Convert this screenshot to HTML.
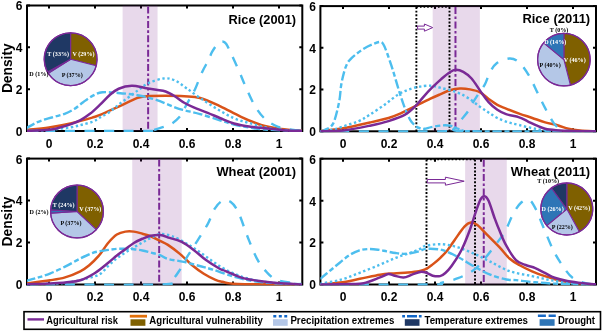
<!DOCTYPE html>
<html><head><meta charset="utf-8"><style>
html,body{margin:0;padding:0;background:#fff;width:602px;height:331px;overflow:hidden}
svg{display:block;will-change:transform;filter:blur(0.3px)}
.tl{font-family:"Liberation Sans",sans-serif;font-weight:bold;font-size:12px;fill:#000}
.tt{font-family:"Liberation Sans",sans-serif;font-weight:bold;font-size:12.2px;fill:#000}
.yl{font-family:"Liberation Sans",sans-serif;font-weight:bold;font-size:13.8px;fill:#000}
.pl{font-family:"Liberation Serif",serif;font-weight:bold;font-size:7px}
.lg{font-family:"Liberation Sans",sans-serif;font-weight:bold;font-size:10.3px;fill:#000}
</style></head><body>
<svg width="602" height="331" viewBox="0 0 602 331">
<rect width="602" height="331" fill="#fff"/>
<clipPath id="c1"><rect x="27.00" y="4.50" width="275.30" height="127.50"/></clipPath>
<rect x="27.00" y="5.50" width="275.30" height="125.50" fill="none" stroke="#000" stroke-width="2"/>
<path d="M49.00,131.00V128.00 M49.00,5.50V8.50 M95.00,131.00V128.00 M95.00,5.50V8.50 M141.00,131.00V128.00 M141.00,5.50V8.50 M187.00,131.00V128.00 M187.00,5.50V8.50 M233.00,131.00V128.00 M233.00,5.50V8.50 M279.00,131.00V128.00 M279.00,5.50V8.50 M27.00,131.00H30.00 M302.30,131.00H299.30 M27.00,89.17H30.00 M302.30,89.17H299.30 M27.00,47.33H30.00 M302.30,47.33H299.30 M27.00,5.50H30.00 M302.30,5.50H299.30" stroke="#000" stroke-width="2" fill="none"/>
<text x="49.00" y="147.50" text-anchor="middle" class="tl">0</text>
<text x="95.00" y="147.50" text-anchor="middle" class="tl">0.2</text>
<text x="141.00" y="147.50" text-anchor="middle" class="tl">0.4</text>
<text x="187.00" y="147.50" text-anchor="middle" class="tl">0.6</text>
<text x="233.00" y="147.50" text-anchor="middle" class="tl">0.8</text>
<text x="279.00" y="147.50" text-anchor="middle" class="tl">1</text>
<text x="22.50" y="135.90" text-anchor="end" class="tl">0</text>
<text x="22.50" y="94.07" text-anchor="end" class="tl">2</text>
<text x="22.50" y="52.23" text-anchor="end" class="tl">4</text>
<text x="22.50" y="10.40" text-anchor="end" class="tl">6</text>
<g clip-path="url(#c1)">
<rect x="122.60" y="5.50" width="34.96" height="125.50" fill="#7E2F8E" fill-opacity="0.18"/>
<path d="M148.13,6.50V131.00" stroke="#7A2A96" stroke-width="2" stroke-dasharray="7 2.4 2.6 2.4" fill="none"/>
<path d="M26.00,129.95 C29.83,129.54 41.60,128.52 49.00,127.44 C56.40,126.36 63.18,125.11 70.39,123.47 C77.60,121.83 87.30,119.04 92.24,117.61 C97.19,116.18 95.65,116.74 100.06,114.89 C104.47,113.05 112.44,109.35 118.69,106.53 C124.94,103.70 132.87,99.66 137.55,97.95 C142.23,96.24 142.07,96.63 146.75,96.28 C151.43,95.93 159.36,95.86 165.61,95.86 C171.86,95.86 178.49,95.93 184.24,96.28 C189.99,96.63 194.09,96.28 200.11,97.95 C206.13,99.62 213.60,103.22 220.35,106.32 C227.10,109.42 233.81,113.46 240.59,116.57 C247.38,119.67 254.28,122.88 261.06,124.93 C267.85,126.99 274.48,127.93 281.30,128.91 C288.12,129.88 298.55,130.48 302.00,130.79" stroke="#D95319" stroke-width="2.5" fill="none"/>
<path d="M26.00,131.00 C29.57,130.90 42.02,130.72 47.39,130.37 C52.76,130.02 54.25,129.43 58.20,128.91 C62.15,128.39 67.13,127.93 71.08,127.23 C75.03,126.54 78.25,125.67 81.89,124.72 C85.53,123.78 89.90,122.81 92.93,121.59 C95.96,120.37 97.34,118.97 100.06,117.40 C102.78,115.84 106.16,114.30 109.26,112.17 C112.37,110.05 113.97,108.24 118.69,104.64 C123.41,101.05 132.57,94.22 137.55,90.63 C142.53,87.04 144.22,85.12 148.59,83.10 C152.96,81.08 159.40,78.95 163.77,78.50 C168.14,78.05 171.09,78.81 174.81,80.38 C178.53,81.95 181.86,84.98 186.08,87.91 C190.30,90.84 194.97,94.47 200.11,97.95 C205.25,101.44 211.27,105.45 216.90,108.83 C222.53,112.21 228.29,115.80 233.92,118.24 C239.56,120.68 245.11,121.87 250.71,123.47 C256.31,125.07 261.63,126.75 267.50,127.86 C273.37,128.98 280.15,129.64 285.90,130.16 C291.65,130.69 299.32,130.86 302.00,131.00" stroke="#4DBEEE" stroke-width="2.4" fill="none" stroke-dasharray="2.4 2.6"/>
<path d="M26.00,128.28 C27.73,127.34 33.02,124.17 36.35,122.63 C39.69,121.10 42.87,120.09 46.01,119.08 C49.15,118.07 52.11,117.44 55.21,116.57 C58.31,115.70 61.46,115.10 64.64,113.85 C67.82,112.59 71.16,111.02 74.30,109.04 C77.44,107.05 80.39,104.16 83.50,101.93 C86.61,99.69 89.79,97.25 92.93,95.65 C96.07,94.05 98.18,92.76 102.36,92.30 C106.54,91.85 112.13,92.44 118.00,92.93 C123.87,93.42 131.19,94.08 137.55,95.23 C143.91,96.38 149.97,97.81 156.18,99.83 C162.39,101.86 170.13,105.62 174.81,107.36 C179.49,109.11 180.02,109.18 184.24,110.29 C188.46,111.41 194.17,112.38 200.11,114.06 C206.05,115.73 214.25,118.59 219.89,120.33 C225.52,122.08 228.67,123.26 233.92,124.52 C239.17,125.77 245.80,126.99 251.40,127.86 C257.00,128.73 259.07,129.22 267.50,129.75 C275.93,130.27 296.25,130.79 302.00,131.00" stroke="#4DBEEE" stroke-width="2.4" fill="none" stroke-dasharray="9.5 2.7 5 2.7"/>
<path d="M26.00,131.00 C45.93,131.00 124.52,131.10 145.60,131.00 C166.68,130.90 149.78,130.97 152.50,130.37 C155.22,129.78 158.75,128.56 161.93,127.44 C165.11,126.33 168.60,125.49 171.59,123.68 C174.58,121.87 177.68,119.18 179.87,116.57 C182.05,113.95 183.13,110.82 184.70,107.99 C186.27,105.17 187.57,102.76 189.30,99.62 C191.02,96.49 192.94,93.70 195.05,89.17 C197.16,84.63 199.69,77.31 201.95,72.43 C204.21,67.55 206.93,63.30 208.62,59.88 C210.31,56.47 210.54,54.65 212.07,51.94 C213.60,49.22 216.13,45.31 217.82,43.57 C219.51,41.83 220.81,41.44 222.19,41.48 C223.57,41.51 224.41,41.34 226.10,43.78 C227.79,46.22 230.01,51.24 232.31,56.12 C234.61,61.00 237.94,68.60 239.90,73.06 C241.85,77.52 241.66,77.63 244.04,82.89 C246.42,88.16 250.75,98.72 254.16,104.64 C257.57,110.57 260.52,114.75 264.51,118.45 C268.50,122.15 272.98,124.86 278.08,126.82 C283.18,128.77 291.11,129.47 295.10,130.16 C299.09,130.86 300.85,130.86 302.00,131.00" stroke="#4DBEEE" stroke-width="2.4" fill="none" stroke-dasharray="10 9.5"/>
<path d="M26.00,131.00 C29.83,130.79 43.63,130.23 49.00,129.75 C54.37,129.26 54.52,129.01 58.20,128.07 C61.88,127.13 67.36,125.42 71.08,124.10 C74.80,122.77 77.37,121.83 80.51,120.12 C83.65,118.42 86.68,116.43 89.94,113.85 C93.20,111.27 96.80,107.75 100.06,104.64 C103.32,101.54 106.39,97.88 109.49,95.23 C112.60,92.58 114.97,90.32 118.69,88.75 C122.41,87.18 127.43,85.96 131.80,85.82 C136.17,85.68 140.85,87.25 144.91,87.91 C148.97,88.57 152.73,89.20 156.18,89.79 C159.63,90.39 162.51,90.39 165.61,91.47 C168.72,92.55 171.71,94.40 174.81,96.28 C177.91,98.16 181.10,100.91 184.24,102.76 C187.38,104.61 189.76,105.69 193.67,107.36 C197.58,109.04 203.25,110.99 207.70,112.80 C212.15,114.62 215.98,116.46 220.35,118.24 C224.72,120.02 228.86,122.04 233.92,123.47 C238.98,124.90 245.11,125.98 250.71,126.82 C256.31,127.65 262.02,127.93 267.50,128.49 C272.98,129.05 277.85,129.75 283.60,130.16 C289.35,130.58 298.93,130.86 302.00,131.00" stroke="#7A2A96" stroke-width="2.5" fill="none"/>
</g>
<text x="228.50" y="23.80" class="tt" textLength="67.6" lengthAdjust="spacingAndGlyphs">Rice (2001)</text>
<path d="M70.60,59.20 L70.60,32.80 A26.40,26.40 0 0 1 96.17,65.77 Z" fill="#7F6000" stroke="#7A2A96" stroke-width="1.1" stroke-linejoin="round"/>
<path d="M70.60,59.20 L96.17,65.77 A26.40,26.40 0 0 1 48.31,73.35 Z" fill="#B4C7E7" stroke="#7A2A96" stroke-width="1.1" stroke-linejoin="round"/>
<path d="M70.60,59.20 L48.31,73.35 A26.40,26.40 0 0 1 47.47,71.92 Z" fill="#2E75B6" stroke="#7A2A96" stroke-width="1.1" stroke-linejoin="round"/>
<path d="M70.60,59.20 L47.47,71.92 A26.40,26.40 0 0 1 70.60,32.80 Z" fill="#1F3864" stroke="#7A2A96" stroke-width="1.1" stroke-linejoin="round"/>
<circle cx="70.60" cy="59.20" r="26.40" fill="none" stroke="#7A2A96" stroke-width="1.3"/>
<text transform="translate(58.20,55.50) scale(0.870,1)" text-anchor="middle" class="pl" fill="#fff">T (33%)</text>
<text transform="translate(83.50,55.90) scale(0.870,1)" text-anchor="middle" class="pl" fill="#fff">V (29%)</text>
<text transform="translate(72.20,76.90) scale(0.870,1)" text-anchor="middle" class="pl" fill="#000">P (37%)</text>
<text transform="translate(38.90,75.90) scale(0.870,1)" text-anchor="middle" class="pl" fill="#000">D (1%)</text>
<clipPath id="c2"><rect x="320.40" y="5.10" width="275.60" height="127.20"/></clipPath>
<rect x="320.40" y="6.10" width="275.60" height="125.20" fill="none" stroke="#000" stroke-width="2"/>
<path d="M343.00,131.30V128.30 M343.00,6.10V9.10 M389.00,131.30V128.30 M389.00,6.10V9.10 M435.00,131.30V128.30 M435.00,6.10V9.10 M481.00,131.30V128.30 M481.00,6.10V9.10 M527.00,131.30V128.30 M527.00,6.10V9.10 M573.00,131.30V128.30 M573.00,6.10V9.10 M320.40,131.30H323.40 M596.00,131.30H593.00 M320.40,89.57H323.40 M596.00,89.57H593.00 M320.40,47.83H323.40 M596.00,47.83H593.00 M320.40,6.10H323.40 M596.00,6.10H593.00" stroke="#000" stroke-width="2" fill="none"/>
<text x="343.00" y="147.80" text-anchor="middle" class="tl">0</text>
<text x="389.00" y="147.80" text-anchor="middle" class="tl">0.2</text>
<text x="435.00" y="147.80" text-anchor="middle" class="tl">0.4</text>
<text x="481.00" y="147.80" text-anchor="middle" class="tl">0.6</text>
<text x="527.00" y="147.80" text-anchor="middle" class="tl">0.8</text>
<text x="573.00" y="147.80" text-anchor="middle" class="tl">1</text>
<text x="315.90" y="136.20" text-anchor="end" class="tl">0</text>
<text x="315.90" y="94.47" text-anchor="end" class="tl">2</text>
<text x="315.90" y="52.73" text-anchor="end" class="tl">4</text>
<text x="315.90" y="11.00" text-anchor="end" class="tl">6</text>
<g clip-path="url(#c2)">
<rect x="432.70" y="6.10" width="47.15" height="125.20" fill="#7E2F8E" fill-opacity="0.18"/>
<path d="M416.37,7.00H449.49" stroke="#000" stroke-width="1.3" stroke-dasharray="1.6 2" fill="none"/>
<path d="M416.37,7.10V131.30" stroke="#000" stroke-width="1.9" stroke-dasharray="1.9 1.7" fill="none"/>
<path d="M449.49,7.10V131.30" stroke="#000" stroke-width="1.9" stroke-dasharray="1.9 1.7" fill="none"/>
<path d="M455.47,7.10V131.30" stroke="#7A2A96" stroke-width="2" stroke-dasharray="7 2.4 2.6 2.4" fill="none"/>
<path d="M320.00,131.09 C321.07,130.95 322.84,130.67 326.44,130.26 C330.04,129.84 334.38,129.87 341.62,128.59 C348.87,127.30 362.09,124.31 369.91,122.54 C377.73,120.76 383.40,119.48 388.54,117.95 C393.68,116.42 396.13,115.37 400.73,113.35 C405.33,111.34 411.27,108.24 416.14,105.84 C421.01,103.44 425.95,100.87 429.94,98.96 C433.93,97.04 436.73,95.83 440.06,94.37 C443.39,92.91 446.65,91.17 449.95,90.19 C453.25,89.22 456.50,88.66 459.84,88.52 C463.18,88.38 466.59,88.73 469.96,89.36 C473.33,89.98 476.97,90.68 480.08,92.28 C483.19,93.88 485.72,96.87 488.59,98.96 C491.47,101.04 494.42,103.20 497.33,104.80 C500.24,106.40 502.43,107.09 506.07,108.56 C509.71,110.02 514.81,112.00 519.18,113.56 C523.55,115.13 527.96,116.48 532.29,117.95 C536.62,119.41 540.84,121.08 545.17,122.33 C549.50,123.58 554.41,124.38 558.28,125.46 C562.15,126.54 564.80,127.96 568.40,128.80 C572.00,129.63 575.30,130.05 579.90,130.47 C584.50,130.88 593.32,131.16 596.00,131.30" stroke="#D95319" stroke-width="2.5" fill="none"/>
<path d="M320.00,131.30 C322.19,131.02 328.78,130.60 333.11,129.63 C337.44,128.66 341.70,126.88 345.99,125.46 C350.28,124.03 354.88,122.88 358.87,121.08 C362.86,119.27 365.50,117.42 369.91,114.61 C374.32,111.79 380.41,107.65 385.32,104.17 C390.23,100.70 394.90,96.35 399.35,93.74 C403.80,91.13 407.98,89.81 412.00,88.52 C416.02,87.24 420.05,86.47 423.50,86.02 C426.95,85.57 429.94,85.53 432.70,85.81 C435.46,86.09 437.19,86.96 440.06,87.69 C442.94,88.42 446.65,89.22 449.95,90.19 C453.25,91.17 456.50,92.04 459.84,93.53 C463.18,95.03 466.59,96.94 469.96,99.17 C473.33,101.39 476.97,104.66 480.08,106.89 C483.19,109.11 485.72,110.68 488.59,112.52 C491.47,114.36 494.03,116.31 497.33,117.95 C500.63,119.58 504.73,121.14 508.37,122.33 C512.01,123.51 515.19,124.07 519.18,125.04 C523.17,126.01 527.92,127.30 532.29,128.17 C536.66,129.04 540.53,129.77 545.40,130.26 C550.27,130.74 553.07,130.92 561.50,131.09 C569.93,131.27 590.25,131.27 596.00,131.30" stroke="#4DBEEE" stroke-width="2.4" fill="none" stroke-dasharray="2.4 2.6"/>
<path d="M320.00,131.30 C320.77,131.09 322.42,131.33 324.60,130.05 C326.79,128.76 330.70,128.24 333.11,123.58 C335.52,118.92 337.75,108.49 339.09,102.09 C340.43,95.69 340.32,90.23 341.16,85.18 C342.00,80.14 343.15,75.41 344.15,71.83 C345.15,68.25 346.10,65.78 347.14,63.69 C348.18,61.61 348.75,60.98 350.36,59.31 C351.97,57.64 354.50,55.48 356.80,53.68 C359.10,51.87 361.67,49.95 364.16,48.46 C366.65,46.96 369.18,45.78 371.75,44.70 C374.32,43.63 377.65,42.09 379.57,41.99 C381.49,41.89 381.99,42.20 383.25,44.08 C384.51,45.96 385.55,48.88 387.16,53.26 C388.77,57.64 390.99,64.32 392.91,70.37 C394.83,76.42 396.74,83.48 398.66,89.57 C400.58,95.65 402.49,101.84 404.41,106.89 C406.33,111.93 408.24,116.59 410.16,119.82 C412.08,123.06 414.18,124.87 415.91,126.29 C417.63,127.72 419.05,127.96 420.51,128.38 C421.97,128.80 422.85,129.00 424.65,128.80 C426.45,128.59 428.44,127.68 431.32,127.13 C434.19,126.57 438.79,125.70 441.90,125.46 C445.00,125.21 447.65,125.28 449.95,125.67 C452.25,126.05 453.59,126.95 455.70,127.75 C457.81,128.55 460.30,129.87 462.60,130.47 C464.90,131.06 447.27,131.16 469.50,131.30 C491.73,131.44 574.92,131.30 596.00,131.30" stroke="#4DBEEE" stroke-width="2.4" fill="none" stroke-dasharray="9.5 2.7 5 2.7"/>
<path d="M320.00,131.30 C341.08,131.30 424.27,131.65 446.50,131.30 C468.73,130.95 450.83,131.27 453.40,129.21 C455.97,127.16 459.49,121.94 461.91,118.99 C464.32,116.03 466.13,114.12 467.89,111.48 C469.65,108.83 470.76,106.02 472.49,103.13 C474.22,100.24 476.17,97.29 478.24,94.16 C480.31,91.03 482.99,87.90 484.91,84.35 C486.83,80.80 487.82,76.35 489.74,72.87 C491.66,69.40 493.11,65.88 496.41,63.48 C499.71,61.08 505.72,58.65 509.52,58.48 C513.32,58.30 515.96,59.62 519.18,62.44 C522.40,65.26 525.77,70.30 528.84,75.38 C531.91,80.45 534.86,87.45 537.58,92.91 C540.30,98.37 542.45,103.06 545.17,108.14 C547.89,113.22 551.19,119.79 553.91,123.37 C556.63,126.95 558.32,128.31 561.50,129.63 C564.68,130.95 567.25,131.02 573.00,131.30 C578.75,131.58 592.17,131.30 596.00,131.30" stroke="#4DBEEE" stroke-width="2.4" fill="none" stroke-dasharray="10 9.5"/>
<path d="M320.00,131.30 C323.83,131.16 334.68,131.40 343.00,130.47 C351.32,129.53 362.32,127.23 369.91,125.67 C377.50,124.10 382.68,122.92 388.54,121.08 C394.41,119.23 400.54,117.18 405.10,114.61 C409.66,112.03 412.92,108.52 415.91,105.63 C418.90,102.75 420.32,100.31 423.04,97.29 C425.76,94.26 429.21,90.51 432.24,87.48 C435.27,84.45 438.33,81.64 441.21,79.13 C444.08,76.63 447.07,74.02 449.49,72.46 C451.91,70.89 453.40,69.85 455.70,69.74 C458.00,69.64 460.64,70.37 463.29,71.83 C465.94,73.29 468.77,75.38 471.57,78.51 C474.37,81.64 477.24,86.68 480.08,90.61 C482.92,94.54 485.72,98.89 488.59,102.09 C491.47,105.29 494.42,107.79 497.33,109.81 C500.24,111.82 502.43,112.94 506.07,114.19 C509.71,115.44 515.58,116.14 519.18,117.32 C522.78,118.50 524.82,119.93 527.69,121.28 C530.57,122.64 533.52,124.21 536.43,125.46 C539.34,126.71 541.91,128.00 545.17,128.80 C548.43,129.60 551.34,129.87 555.98,130.26 C560.62,130.64 566.33,130.92 573.00,131.09 C579.67,131.27 592.17,131.27 596.00,131.30" stroke="#7A2A96" stroke-width="2.5" fill="none"/>
</g>
<path d="M417.60,26.10 H424.40 V24.00 L432.70,27.60 L424.40,31.20 V29.10 H417.60 Z" fill="#fff" stroke="#7A2A96" stroke-width="1.0" stroke-linejoin="miter"/>
<text x="522.40" y="23.40" class="tt" textLength="67.8" lengthAdjust="spacingAndGlyphs">Rice (2011)</text>
<path d="M563.90,59.60 L563.90,33.30 A26.30,26.30 0 0 1 570.44,85.07 Z" fill="#7F6000" stroke="#7A2A96" stroke-width="1.1" stroke-linejoin="round"/>
<path d="M563.90,59.60 L570.44,85.07 A26.30,26.30 0 0 1 543.64,42.84 Z" fill="#B4C7E7" stroke="#7A2A96" stroke-width="1.1" stroke-linejoin="round"/>
<path d="M563.90,59.60 L543.64,42.84 A26.30,26.30 0 0 1 563.90,33.30 Z" fill="#2E75B6" stroke="#7A2A96" stroke-width="1.1" stroke-linejoin="round"/>
<circle cx="563.90" cy="59.60" r="26.30" fill="none" stroke="#7A2A96" stroke-width="1.3"/>
<text transform="translate(559.00,31.60) scale(0.870,1)" text-anchor="middle" class="pl" fill="#000">T (0%)</text>
<text transform="translate(555.20,44.40) scale(0.870,1)" text-anchor="middle" class="pl" fill="#fff">D (14%)</text>
<text transform="translate(574.70,61.50) scale(0.870,1)" text-anchor="middle" class="pl" fill="#fff">V (46%)</text>
<text transform="translate(550.10,66.60) scale(0.870,1)" text-anchor="middle" class="pl" fill="#000">P (40%)</text>
<clipPath id="c3"><rect x="27.00" y="157.60" width="275.30" height="127.90"/></clipPath>
<rect x="27.00" y="158.60" width="275.30" height="125.90" fill="none" stroke="#000" stroke-width="2"/>
<path d="M49.00,284.50V281.50 M49.00,158.60V161.60 M95.00,284.50V281.50 M95.00,158.60V161.60 M141.00,284.50V281.50 M141.00,158.60V161.60 M187.00,284.50V281.50 M187.00,158.60V161.60 M233.00,284.50V281.50 M233.00,158.60V161.60 M279.00,284.50V281.50 M279.00,158.60V161.60 M27.00,284.50H30.00 M302.30,284.50H299.30 M27.00,242.53H30.00 M302.30,242.53H299.30 M27.00,200.57H30.00 M302.30,200.57H299.30 M27.00,158.60H30.00 M302.30,158.60H299.30" stroke="#000" stroke-width="2" fill="none"/>
<text x="49.00" y="301.00" text-anchor="middle" class="tl">0</text>
<text x="95.00" y="301.00" text-anchor="middle" class="tl">0.2</text>
<text x="141.00" y="301.00" text-anchor="middle" class="tl">0.4</text>
<text x="187.00" y="301.00" text-anchor="middle" class="tl">0.6</text>
<text x="233.00" y="301.00" text-anchor="middle" class="tl">0.8</text>
<text x="279.00" y="301.00" text-anchor="middle" class="tl">1</text>
<text x="22.50" y="289.40" text-anchor="end" class="tl">0</text>
<text x="22.50" y="247.43" text-anchor="end" class="tl">2</text>
<text x="22.50" y="205.47" text-anchor="end" class="tl">4</text>
<text x="22.50" y="163.50" text-anchor="end" class="tl">6</text>
<g clip-path="url(#c3)">
<rect x="132.26" y="158.60" width="49.45" height="125.90" fill="#7E2F8E" fill-opacity="0.18"/>
<path d="M159.17,159.60V284.50" stroke="#7A2A96" stroke-width="2" stroke-dasharray="7 2.4 2.6 2.4" fill="none"/>
<path d="M26.00,283.45 C29.99,282.93 43.40,281.32 49.92,280.30 C56.44,279.29 60.04,278.87 65.10,277.37 C70.16,275.86 76.25,273.31 80.28,271.28 C84.31,269.25 86.22,267.71 89.25,265.20 C92.28,262.68 95.23,259.95 98.45,256.17 C101.67,252.40 105.50,246.14 108.57,242.53 C111.64,238.93 114.05,236.38 116.85,234.56 C119.65,232.74 122.52,232.11 125.36,231.62 C128.20,231.13 131.03,231.27 133.87,231.62 C136.71,231.97 139.58,232.95 142.38,233.72 C145.18,234.49 147.71,235.05 150.66,236.24 C153.61,237.43 157.22,239.42 160.09,240.85 C162.97,242.29 164.61,242.67 167.91,244.84 C171.21,247.01 175.92,250.54 179.87,253.86 C183.82,257.19 187.61,261.45 191.60,264.78 C195.59,268.10 199.80,271.28 203.79,273.80 C207.78,276.32 212.41,278.55 215.52,279.88 C218.62,281.21 218.74,281.07 222.42,281.77 C226.10,282.47 224.34,283.63 237.60,284.08 C250.86,284.53 291.27,284.43 302.00,284.50" stroke="#D95319" stroke-width="2.5" fill="none"/>
<path d="M26.00,284.50 C30.98,284.36 48.12,284.12 55.90,283.66 C63.68,283.21 67.36,282.68 72.69,281.77 C78.02,280.86 83.31,279.50 87.87,278.20 C92.43,276.91 96.61,276.11 100.06,274.01 C103.51,271.91 105.77,268.24 108.57,265.62 C111.37,262.99 114.05,260.44 116.85,258.27 C119.65,256.10 122.52,254.42 125.36,252.61 C128.20,250.79 131.03,249.04 133.87,247.36 C136.71,245.68 139.58,244.11 142.38,242.53 C145.18,240.96 147.71,239.32 150.66,237.92 C153.61,236.52 156.56,234.45 160.09,234.14 C163.62,233.83 167.56,234.56 171.82,236.03 C176.07,237.50 180.98,240.30 185.62,242.95 C190.26,245.61 195.13,248.90 199.65,251.98 C204.17,255.05 208.43,258.48 212.76,261.42 C217.09,264.36 220.85,267.08 225.64,269.60 C230.43,272.12 236.18,274.67 241.51,276.53 C246.84,278.38 251.36,279.57 257.61,280.72 C263.86,281.88 271.60,282.82 279.00,283.45 C286.40,284.08 298.17,284.33 302.00,284.50" stroke="#4DBEEE" stroke-width="2.4" fill="none" stroke-dasharray="2.4 2.6"/>
<path d="M26.00,280.93 C27.92,280.41 33.51,279.01 37.50,277.79 C41.49,276.56 45.32,275.44 49.92,273.59 C54.52,271.74 60.04,269.18 65.10,266.66 C70.16,264.15 75.76,260.75 80.28,258.48 C84.80,256.21 88.71,254.28 92.24,253.03 C95.77,251.77 98.72,251.45 101.44,250.93 C104.16,250.40 106.00,250.23 108.57,249.88 C111.14,249.53 114.05,249.00 116.85,248.83 C119.65,248.65 122.52,248.76 125.36,248.83 C128.20,248.90 131.03,248.97 133.87,249.25 C136.71,249.53 139.58,249.95 142.38,250.51 C145.18,251.07 147.71,251.84 150.66,252.61 C153.61,253.37 157.22,254.07 160.09,255.12 C162.97,256.17 163.96,257.78 167.91,258.90 C171.86,260.02 178.49,260.65 183.78,261.84 C189.07,263.03 194.82,264.74 199.65,266.03 C204.48,267.33 207.35,267.92 212.76,269.60 C218.16,271.28 225.68,274.25 232.08,276.11 C238.48,277.96 244.27,279.57 251.17,280.72 C258.07,281.88 265.01,282.44 273.48,283.03 C281.95,283.63 297.25,284.08 302.00,284.29" stroke="#4DBEEE" stroke-width="2.4" fill="none" stroke-dasharray="9.5 2.7 5 2.7"/>
<path d="M26.00,284.50 C48.23,284.50 135.10,285.27 159.40,284.50 C183.70,283.73 168.41,282.33 171.82,279.88 C175.23,277.44 177.22,273.80 179.87,269.81 C182.51,265.82 184.70,260.93 187.69,255.96 C190.68,251.00 194.47,245.33 197.81,240.02 C201.15,234.70 204.90,229.24 207.70,224.07 C210.50,218.89 212.15,212.84 214.60,208.96 C217.05,205.08 219.77,201.97 222.42,200.78 C225.06,199.59 227.82,199.94 230.47,201.83 C233.12,203.71 235.38,206.13 238.29,212.11 C241.20,218.09 244.73,229.73 247.95,237.71 C251.17,245.68 254.39,254.11 257.61,259.95 C260.83,265.79 264.09,269.43 267.27,272.75 C270.45,276.07 272.44,278.17 276.70,279.88 C280.95,281.60 288.58,282.33 292.80,283.03 C297.02,283.73 300.47,283.91 302.00,284.08" stroke="#4DBEEE" stroke-width="2.4" fill="none" stroke-dasharray="10 9.5"/>
<path d="M26.00,284.50 C32.52,284.15 56.05,283.10 65.10,282.40 C74.15,281.70 75.30,281.88 80.28,280.30 C85.26,278.73 90.28,275.93 95.00,272.96 C99.72,269.99 104.93,265.37 108.57,262.47 C112.21,259.56 114.05,257.75 116.85,255.54 C119.65,253.34 122.52,251.35 125.36,249.25 C128.20,247.15 131.03,244.70 133.87,242.95 C136.71,241.20 139.58,239.95 142.38,238.76 C145.18,237.57 147.71,236.45 150.66,235.82 C153.61,235.19 156.91,234.63 160.09,234.98 C163.27,235.33 166.15,236.76 169.75,237.92 C173.35,239.07 177.72,239.91 181.71,241.90 C185.70,243.90 189.68,246.90 193.67,249.88 C197.66,252.85 201.30,256.59 205.63,259.74 C209.96,262.89 216.32,266.87 219.66,268.76 C223.00,270.65 222.00,269.60 225.64,271.07 C229.28,272.54 236.18,275.97 241.51,277.58 C246.84,279.18 251.75,279.81 257.61,280.72 C263.48,281.63 269.30,282.40 276.70,283.03 C284.10,283.66 297.78,284.26 302.00,284.50" stroke="#7A2A96" stroke-width="2.5" fill="none"/>
</g>
<text x="216.40" y="176.20" class="tt" textLength="79.7" lengthAdjust="spacingAndGlyphs">Wheat (2001)</text>
<path d="M77.00,211.50 L77.00,185.10 A26.40,26.40 0 0 1 96.24,229.57 Z" fill="#7F6000" stroke="#7A2A96" stroke-width="1.1" stroke-linejoin="round"/>
<path d="M77.00,211.50 L96.24,229.57 A26.40,26.40 0 0 1 50.65,213.16 Z" fill="#B4C7E7" stroke="#7A2A96" stroke-width="1.1" stroke-linejoin="round"/>
<path d="M77.00,211.50 L50.65,213.16 A26.40,26.40 0 0 1 50.65,209.84 Z" fill="#2E75B6" stroke="#7A2A96" stroke-width="1.1" stroke-linejoin="round"/>
<path d="M77.00,211.50 L50.65,209.84 A26.40,26.40 0 0 1 77.00,185.10 Z" fill="#1F3864" stroke="#7A2A96" stroke-width="1.1" stroke-linejoin="round"/>
<circle cx="77.00" cy="211.50" r="26.40" fill="none" stroke="#7A2A96" stroke-width="1.3"/>
<text transform="translate(63.70,206.80) scale(0.870,1)" text-anchor="middle" class="pl" fill="#fff">T (24%)</text>
<text transform="translate(90.30,210.50) scale(0.870,1)" text-anchor="middle" class="pl" fill="#fff">V (37%)</text>
<text transform="translate(71.00,224.90) scale(0.870,1)" text-anchor="middle" class="pl" fill="#000">P (37%)</text>
<text transform="translate(39.00,214.00) scale(0.870,1)" text-anchor="middle" class="pl" fill="#000">D (2%)</text>
<clipPath id="c4"><rect x="320.40" y="157.70" width="275.60" height="127.80"/></clipPath>
<rect x="320.40" y="158.70" width="275.60" height="125.80" fill="none" stroke="#000" stroke-width="2"/>
<path d="M343.00,284.50V281.50 M343.00,158.70V161.70 M389.00,284.50V281.50 M389.00,158.70V161.70 M435.00,284.50V281.50 M435.00,158.70V161.70 M481.00,284.50V281.50 M481.00,158.70V161.70 M527.00,284.50V281.50 M527.00,158.70V161.70 M573.00,284.50V281.50 M573.00,158.70V161.70 M320.40,284.50H323.40 M596.00,284.50H593.00 M320.40,242.57H323.40 M596.00,242.57H593.00 M320.40,200.63H323.40 M596.00,200.63H593.00 M320.40,158.70H323.40 M596.00,158.70H593.00" stroke="#000" stroke-width="2" fill="none"/>
<text x="343.00" y="301.00" text-anchor="middle" class="tl">0</text>
<text x="389.00" y="301.00" text-anchor="middle" class="tl">0.2</text>
<text x="435.00" y="301.00" text-anchor="middle" class="tl">0.4</text>
<text x="481.00" y="301.00" text-anchor="middle" class="tl">0.6</text>
<text x="527.00" y="301.00" text-anchor="middle" class="tl">0.8</text>
<text x="573.00" y="301.00" text-anchor="middle" class="tl">1</text>
<text x="315.90" y="289.40" text-anchor="end" class="tl">0</text>
<text x="315.90" y="247.47" text-anchor="end" class="tl">2</text>
<text x="315.90" y="205.53" text-anchor="end" class="tl">4</text>
<text x="315.90" y="163.60" text-anchor="end" class="tl">6</text>
<g clip-path="url(#c4)">
<rect x="465.13" y="158.70" width="41.63" height="125.80" fill="#7E2F8E" fill-opacity="0.18"/>
<path d="M426.49,159.60H475.02" stroke="#000" stroke-width="1.3" stroke-dasharray="1.6 2" fill="none"/>
<path d="M426.49,159.70V284.50" stroke="#000" stroke-width="1.9" stroke-dasharray="1.9 1.7" fill="none"/>
<path d="M475.02,159.70V284.50" stroke="#000" stroke-width="1.9" stroke-dasharray="1.9 1.7" fill="none"/>
<path d="M483.76,159.70V284.50" stroke="#7A2A96" stroke-width="2" stroke-dasharray="7 2.4 2.6 2.4" fill="none"/>
<path d="M320.00,284.50 C323.33,284.19 333.38,283.56 340.01,282.61 C346.64,281.67 353.12,280.17 359.79,278.84 C366.46,277.51 374.36,275.55 380.03,274.65 C385.70,273.74 389.19,273.74 393.83,273.39 C398.47,273.04 403.68,272.90 407.86,272.55 C412.04,272.20 415.91,271.85 418.90,271.29 C421.89,270.73 423.50,270.35 425.80,269.19 C428.10,268.04 430.32,266.22 432.70,264.37 C435.08,262.52 437.57,260.49 440.06,258.08 C442.55,255.67 445.16,253.02 447.65,249.91 C450.14,246.79 452.21,243.30 455.01,239.42 C457.81,235.54 461.80,229.46 464.44,226.63 C467.08,223.80 468.73,222.72 470.88,222.44 C473.03,222.16 474.64,222.93 477.32,224.95 C480.00,226.98 483.26,230.86 486.98,234.60 C490.70,238.34 495.87,243.41 499.63,247.39 C503.39,251.37 506.26,255.57 509.52,258.50 C512.78,261.44 515.42,262.87 519.18,265.00 C522.94,267.13 527.77,269.44 532.06,271.29 C536.35,273.14 540.69,274.65 544.94,276.11 C549.20,277.58 552.91,278.94 557.59,280.10 C562.27,281.25 566.60,282.30 573.00,283.03 C579.40,283.77 592.17,284.26 596.00,284.50" stroke="#D95319" stroke-width="2.5" fill="none"/>
<path d="M320.00,283.66 C323.33,283.03 333.38,281.70 340.01,279.89 C346.64,278.07 353.16,275.27 359.79,272.76 C366.42,270.24 373.82,267.27 379.80,264.79 C385.78,262.31 390.69,259.83 395.67,257.87 C400.65,255.92 405.64,254.55 409.70,253.05 C413.76,251.55 417.33,250.08 420.05,248.86 C422.77,247.63 422.39,246.48 426.03,245.71 C429.67,244.94 436.57,243.96 441.90,244.24 C447.23,244.52 452.63,245.82 458.00,247.39 C463.37,248.96 468.73,251.30 474.10,253.68 C479.47,256.06 484.22,258.71 490.20,261.65 C496.18,264.58 503.00,268.88 509.98,271.29 C516.96,273.70 525.16,274.61 532.06,276.11 C538.96,277.62 544.56,279.08 551.38,280.31 C558.20,281.53 565.56,282.75 573.00,283.45 C580.44,284.15 592.17,284.33 596.00,284.50" stroke="#4DBEEE" stroke-width="2.4" fill="none" stroke-dasharray="2.4 2.6"/>
<path d="M320.00,279.05 C321.76,277.58 327.25,273.00 330.58,270.24 C333.91,267.48 336.87,265.00 340.01,262.49 C343.15,259.97 346.30,257.14 349.44,255.15 C352.58,253.15 355.73,251.55 358.87,250.53 C362.01,249.52 365.12,249.21 368.30,249.07 C371.48,248.93 374.89,249.31 377.96,249.70 C381.03,250.08 383.75,250.81 386.70,251.37 C389.65,251.93 392.83,252.63 395.67,253.05 C398.51,253.47 401.08,253.89 403.72,253.89 C406.37,253.89 408.82,253.54 411.54,253.05 C414.26,252.56 417.63,251.65 420.05,250.95 C422.47,250.25 422.39,249.03 426.03,248.86 C429.67,248.68 436.57,248.54 441.90,249.91 C447.23,251.27 452.63,254.27 458.00,257.03 C463.37,259.79 468.73,263.53 474.10,266.47 C479.47,269.40 484.83,272.48 490.20,274.65 C495.57,276.81 502.01,278.56 506.30,279.47 C510.59,280.38 511.67,279.68 515.96,280.10 C520.25,280.52 525.62,281.39 532.06,281.98 C538.50,282.58 543.94,283.24 554.60,283.66 C565.26,284.08 589.10,284.36 596.00,284.50" stroke="#4DBEEE" stroke-width="2.4" fill="none" stroke-dasharray="9.5 2.7 5 2.7"/>
<path d="M320.00,284.50 C338.40,284.50 410.08,284.81 430.40,284.50 C450.72,284.19 437.30,283.66 441.90,282.61 C446.50,281.56 452.63,280.34 458.00,278.21 C463.37,276.08 469.42,273.35 474.10,269.82 C478.78,266.29 482.00,261.86 486.06,257.03 C490.12,252.21 495.30,245.15 498.48,240.89 C501.66,236.63 502.70,235.96 505.15,231.45 C507.60,226.95 510.52,218.66 513.20,213.84 C515.88,209.02 518.57,204.83 521.25,202.52 C523.93,200.21 526.88,198.92 529.30,200.00 C531.71,201.09 533.33,204.34 535.74,209.02 C538.15,213.70 540.84,221.18 543.79,228.10 C546.74,235.02 550.23,244.14 553.45,250.53 C556.67,256.93 559.93,261.93 563.11,266.47 C566.29,271.01 568.78,275.00 572.54,277.79 C576.30,280.59 581.74,282.16 585.65,283.24 C589.56,284.33 594.27,284.12 596.00,284.29" stroke="#4DBEEE" stroke-width="2.4" fill="none" stroke-dasharray="10 9.5"/>
<path d="M320.00,284.50 C324.98,284.43 342.62,284.29 349.90,284.08 C357.18,283.87 358.68,284.36 363.70,283.24 C368.72,282.12 375.93,278.91 380.03,277.37 C384.13,275.83 386.01,274.33 388.31,274.02 C390.61,273.70 391.30,274.89 393.83,275.48 C396.36,276.08 400.46,277.72 403.49,277.58 C406.52,277.44 409.20,275.59 412.00,274.65 C414.80,273.70 417.98,272.27 420.28,271.92 C422.58,271.57 423.73,271.92 425.80,272.55 C427.87,273.18 430.32,275.10 432.70,275.69 C435.08,276.29 437.95,276.57 440.06,276.11 C442.17,275.66 443.43,274.65 445.35,272.97 C447.27,271.29 448.92,269.79 451.56,266.05 C454.20,262.31 458.27,256.30 461.22,250.53 C464.17,244.77 466.86,237.85 469.27,231.45 C471.68,225.06 473.83,217.51 475.71,212.16 C477.59,206.82 479.08,202.03 480.54,199.38 C482.00,196.72 483.11,195.99 484.45,196.23 C485.79,196.47 486.87,197.10 488.59,200.84 C490.32,204.58 492.88,213.46 494.80,218.66 C496.72,223.87 498.17,227.58 500.09,232.08 C502.01,236.59 503.65,241.03 506.30,245.71 C508.94,250.39 512.74,256.96 515.96,260.18 C519.18,263.39 522.40,263.67 525.62,265.00 C528.84,266.33 532.06,266.82 535.28,268.15 C538.50,269.47 541.72,271.36 544.94,272.97 C548.16,274.58 550.88,276.46 554.60,277.79 C558.32,279.12 562.46,280.03 567.25,280.94 C572.04,281.84 578.56,282.68 583.35,283.24 C588.14,283.80 593.89,284.12 596.00,284.29" stroke="#7A2A96" stroke-width="2.5" fill="none"/>
</g>
<path d="M427.30,179.50 H445.40 V177.20 L464.20,181.20 L445.40,185.20 V182.90 H427.30 Z" fill="#fff" stroke="#7A2A96" stroke-width="1.0" stroke-linejoin="miter"/>
<text x="510.80" y="176.20" class="tt" textLength="79.4" lengthAdjust="spacingAndGlyphs">Wheat (2011)</text>
<path d="M566.80,209.00 L566.80,183.00 A26.00,26.00 0 0 1 579.33,231.78 Z" fill="#7F6000" stroke="#7A2A96" stroke-width="1.1" stroke-linejoin="round"/>
<path d="M566.80,209.00 L579.33,231.78 A26.00,26.00 0 0 1 546.77,225.57 Z" fill="#B4C7E7" stroke="#7A2A96" stroke-width="1.1" stroke-linejoin="round"/>
<path d="M566.80,209.00 L546.77,225.57 A26.00,26.00 0 0 1 551.52,187.97 Z" fill="#2E75B6" stroke="#7A2A96" stroke-width="1.1" stroke-linejoin="round"/>
<path d="M566.80,209.00 L551.52,187.97 A26.00,26.00 0 0 1 566.80,183.00 Z" fill="#1F3864" stroke="#7A2A96" stroke-width="1.1" stroke-linejoin="round"/>
<circle cx="566.80" cy="209.00" r="26.00" fill="none" stroke="#7A2A96" stroke-width="1.3"/>
<text transform="translate(548.20,183.40) scale(0.870,1)" text-anchor="middle" class="pl" fill="#000">T (10%)</text>
<text transform="translate(552.60,210.70) scale(0.870,1)" text-anchor="middle" class="pl" fill="#fff">D (26%)</text>
<text transform="translate(579.20,210.20) scale(0.870,1)" text-anchor="middle" class="pl" fill="#fff">V (42%)</text>
<text transform="translate(562.30,228.80) scale(0.870,1)" text-anchor="middle" class="pl" fill="#000">P (22%)</text>
<rect x="24" y="311.7" width="576.5" height="17.6" fill="#fff" stroke="#000" stroke-width="1.6"/>
<path d="M27.5,319.4H44" stroke="#7A2A96" stroke-width="2.4"/>
<path d="M129.8,316.2H147" stroke="#E2700A" stroke-width="2.8"/>
<rect x="130.5" y="319.3" width="14.9" height="6.5" fill="#7F6000"/>
<path d="M273.3,316.2H287.2" stroke="#1066C8" stroke-width="2.6" stroke-dasharray="3 2.5"/>
<rect x="273" y="319.2" width="14.7" height="6.6" fill="#B4C7E7"/>
<path d="M402.2,316.2H405 M407,316.2H417 M418.9,316.2H421.6" stroke="#1066C8" stroke-width="2.6"/>
<rect x="404.8" y="319.2" width="14.7" height="6.6" fill="#1F3864"/>
<path d="M537.9,315.8H545.9 M548.6,315.8H555.8" stroke="#1A6AC6" stroke-width="2.5"/>
<rect x="539.6" y="319.2" width="15" height="6.6" fill="#2E75B6"/>
<text x="46.20" y="323.6" class="lg" textLength="71.7" lengthAdjust="spacingAndGlyphs">Agricultural risk</text>
<text x="149.30" y="323.6" class="lg" textLength="113.5" lengthAdjust="spacingAndGlyphs">Agricultural vulnerability</text>
<text x="290.40" y="323.6" class="lg" textLength="104.0" lengthAdjust="spacingAndGlyphs">Precipitation extremes</text>
<text x="424.50" y="323.6" class="lg" textLength="103.5" lengthAdjust="spacingAndGlyphs">Temperature extremes</text>
<text x="558.00" y="323.6" class="lg" textLength="37.0" lengthAdjust="spacingAndGlyphs">Drought</text>
<text transform="translate(11.6,68.2) rotate(-90)" text-anchor="middle" class="yl">Density</text>
<text transform="translate(11.6,221.5) rotate(-90)" text-anchor="middle" class="yl">Density</text>
</svg>
</body></html>
